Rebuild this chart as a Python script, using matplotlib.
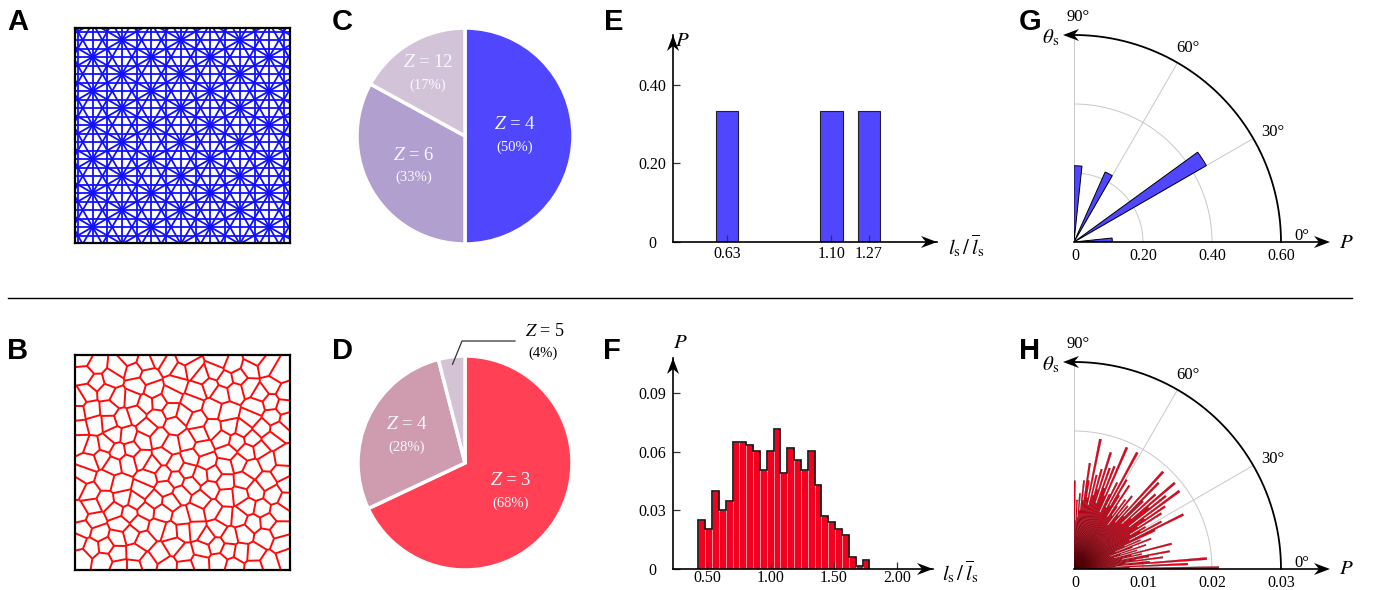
import numpy as np
import matplotlib
matplotlib.use('Agg')
import matplotlib.pyplot as plt
import matplotlib.tri as mtri
from matplotlib.collections import LineCollection
from matplotlib.patches import Polygon

plt.rcParams['font.family'] = ['Liberation Serif', 'DejaVu Serif']
plt.rcParams['mathtext.fontset'] = 'stix'

W, H = 1379, 590

# ---- data ----
pie_c_z = ['4', '6', '12']
pie_c_pct = [50, 33, 17]
pie_c_colors = ['#5046fe', '#b09fcf', '#d3c3d8']
pie_c_label_r = [0.46, 0.55, 0.67]

pie_d_z = ['3', '4', '5']
pie_d_pct = [68, 28, 4]
pie_d_colors = ['#ff4055', '#cf9bae', '#d4c2d5']
pie_d_label_r = [0.50, 0.60]

e_lengths = [0.63, 1.10, 1.27]
e_prob = [0.333, 0.333, 0.333]
e_ticks = [0.63, 1.10, 1.27]

f_prob = [0.0252, 0.0205, 0.0397, 0.0300, 0.0349, 0.0651, 0.0651, 0.0636, 0.0602,
          0.0508, 0.0602, 0.0716, 0.0491, 0.0619, 0.0556, 0.0508, 0.0602, 0.0430,
          0.0269, 0.0239, 0.0205, 0.0172, 0.0061, 0.0014, 0.0048]
f_first_edge = 0.431
f_bin = 0.0539
f_ticks = [0.50, 1.00, 1.50, 2.00]

g_bin_left = [0, 30, 60, 84]       # degrees, 6 degree bins
g_prob = [0.111, 0.443, 0.222, 0.221]

# 1 degree bins, 0..89
h_prob = [0.0210, 0.0080, 0.0165, 0.0060, 0.0193, 0.0110, 0.0075, 0.0130, 0.0090, 0.0110,
          0.0141, 0.0070, 0.0100, 0.0085, 0.0146, 0.0060, 0.0095, 0.0070, 0.0110, 0.0055,
          0.0090, 0.0120, 0.0065, 0.0105, 0.0080, 0.0130, 0.0177, 0.0090, 0.0144, 0.0110,
          0.0120, 0.0095, 0.0150, 0.0110, 0.0160, 0.0125, 0.0190, 0.0100, 0.0170, 0.0140,
          0.0192, 0.0110, 0.0160, 0.0095, 0.0140, 0.0175, 0.0105, 0.0191, 0.0090, 0.0120,
          0.0100, 0.0135, 0.0080, 0.0125, 0.0095, 0.0110, 0.0145, 0.0090, 0.0125, 0.0150,
          0.0105, 0.0192, 0.0100, 0.0140, 0.0120, 0.0090, 0.0192, 0.0115, 0.0160, 0.0125,
          0.0155, 0.0100, 0.0177, 0.0120, 0.0150, 0.0110, 0.0140, 0.0095, 0.0192, 0.0105,
          0.0130, 0.0155, 0.0100, 0.0129, 0.0085, 0.0110, 0.0075, 0.0100, 0.0070, 0.0128]

BLUE = '#5046fe'
RED = '#f2001f'

fig = plt.figure(figsize=(W / 100, H / 100), dpi=100)


def px_axes(x0, y0, x1, y1, **kw):
    return fig.add_axes([x0 / W, 1 - y1 / H, (x1 - x0) / W, (y1 - y0) / H], **kw)


def px_text(x, y, s, **kw):
    kw.setdefault('ha', 'center')
    kw.setdefault('va', 'center')
    fig.text(x / W, 1 - y / H, s, **kw)


def head(xt, yt, dx, dy, length=16, half=6, notch=5):
    # concave arrow head, tip at (xt, yt) in picture pixels, pointing along (dx, dy)
    u = np.array([dx, dy], float)
    n = np.array([-dy, dx], float)
    tip = np.array([xt, yt], float)
    base = tip - length * u
    pts = np.array([tip, base + half * n, tip - (length - notch) * u, base - half * n])
    pts = np.column_stack([pts[:, 0] / W, 1 - pts[:, 1] / H])
    fig.add_artist(Polygon(pts, closed=True, transform=fig.transFigure, color='k', lw=0, zorder=10))


# panel letters + separator
for lab, (x, y) in zip('ABCDEFGH', [(18, 22), (18, 351), (342, 22), (342, 351),
                                    (614, 22), (612, 351), (1030, 22), (1030, 351)]):
    px_text(x, y, lab, family='Liberation Sans', weight='bold', fontsize=21)
fig.add_artist(plt.Line2D([8 / W, 1352 / W], [1 - 298 / H] * 2, color='k', lw=1.0))

# ---- A: lattice of 12-, 6- and 4-fold nodes ----
axA = px_axes(75, 28, 290, 243)
axA.set_xlim(75, 290)
axA.set_ylim(243, 28)
L = 34.0
c = L * np.sqrt(3) / 2
p0 = np.array([122.0, 74.0])
corners = np.array([[75, 28], [290, 28], [75, 243], [290, 243]], float)
segs = []
for ang, sp in [(90, c / 2), (30, c), (-30, c), (0, L / 4), (60, L / 2), (-60, L / 2)]:
    a = np.deg2rad(ang)
    u = np.array([np.cos(a), np.sin(a)])
    n = np.array([-np.sin(a), np.cos(a)])
    s0 = n @ p0
    sv = corners @ n
    tv = corners @ u
    for k in range(int(np.floor((sv.min() - s0) / sp)) - 1, int(np.ceil((sv.max() - s0) / sp)) + 2):
        s = s0 + k * sp
        segs.append([s * n + (tv.min() - 20) * u, s * n + (tv.max() + 20) * u])
axA.add_collection(LineCollection(segs, colors='#1010ff', linewidths=1.3))
axA.set_xticks([])
axA.set_yticks([])
for sp_ in axA.spines.values():
    sp_.set_linewidth(1.6)
    sp_.set_zorder(5)


# ---- B: Voronoi-like network ----
def halton(i, b):
    f, r = 1.0, 0.0
    while i > 0:
        f /= b
        r += f * (i % b)
        i //= b
    return r


N = 200
pts = np.array([[halton(i + 7, 2), halton(i + 7, 3)] for i in range(N)])
d0 = 0.95 / np.sqrt(N)
for _ in range(8):
    diff = pts[:, None, :] - pts[None, :, :]
    dist = np.sqrt((diff ** 2).sum(-1)) + np.eye(N)
    w = np.clip(d0 - dist, 0, None) / dist
    np.fill_diagonal(w, 0)
    pts = np.clip(pts + 0.3 * (diff * w[..., None]).sum(1), 0.012, 0.988)
allp = np.vstack([pts, pts * [-1, 1], pts * [-1, 1] + [2, 0], pts * [1, -1], pts * [1, -1] + [0, 2]])
tri = mtri.Triangulation(allp[:, 0], allp[:, 1])
P = allp[tri.triangles]
ax_, ay_ = P[:, 0, 0], P[:, 0, 1]
bx_, by_ = P[:, 1, 0], P[:, 1, 1]
cx_, cy_ = P[:, 2, 0], P[:, 2, 1]
dd = 2 * (ax_ * (by_ - cy_) + bx_ * (cy_ - ay_) + cx_ * (ay_ - by_))
ux = ((ax_**2 + ay_**2) * (by_ - cy_) + (bx_**2 + by_**2) * (cy_ - ay_) + (cx_**2 + cy_**2) * (ay_ - by_)) / dd
uy = ((ax_**2 + ay_**2) * (cx_ - bx_) + (bx_**2 + by_**2) * (ax_ - cx_) + (cx_**2 + cy_**2) * (bx_ - ax_)) / dd
vsegs = []
for t, nb in enumerate(tri.neighbors):
    for m in nb:
        if m > t:
            p, q = (ux[t], uy[t]), (ux[m], uy[m])
            if -0.3 < min(p[0], q[0]) and max(p[0], q[0]) < 1.3 and -0.3 < min(p[1], q[1]) and max(p[1], q[1]) < 1.3:
                vsegs.append([p, q])
axB = px_axes(75, 355, 290, 570)
axB.add_collection(LineCollection(vsegs, colors='#ff0a0a', linewidths=1.4))
axB.set_xlim(0, 1)
axB.set_ylim(0, 1)
axB.set_xticks([])
axB.set_yticks([])
for sp_ in axB.spines.values():
    sp_.set_linewidth(1.6)
    sp_.set_zorder(5)


# ---- C / D: pies ----
def draw_pie(ax, pct, colors, zs, label_r):
    wedges, _ = ax.pie(pct, colors=colors, startangle=90, counterclock=False,
                       wedgeprops=dict(edgecolor='white', linewidth=2.5))
    ax.set_xlim(-1, 1)
    ax.set_ylim(-1, 1)
    ax.set_aspect('equal')
    for wdg, z, p, r in zip(wedges, zs, pct, label_r):
        mid = np.deg2rad((wdg.theta1 + wdg.theta2) / 2)
        xy = (r * np.cos(mid), r * np.sin(mid))
        ax.annotate('$Z$ = ' + z, xy, xytext=(0, 8), textcoords='offset points',
                    ha='center', va='center', fontsize=13.5, color='#f8f8ff')
        ax.annotate('(%d%%)' % p, xy, xytext=(0, -8), textcoords='offset points',
                    ha='center', va='center', fontsize=10.5, color='#f8f8ff')
    return wedges


axC = px_axes(357, 28, 573, 244)
draw_pie(axC, pie_c_pct, pie_c_colors, pie_c_z, pie_c_label_r)

axD = px_axes(358, 356, 572, 570)
wD = draw_pie(axD, pie_d_pct, pie_d_colors, pie_d_z, pie_d_label_r)
mid5 = np.deg2rad((wD[2].theta1 + wD[2].theta2) / 2)
axD.plot([0.93 * np.cos(mid5), -0.028, 0.467], [0.93 * np.sin(mid5), 1.14, 1.14],
         color='#333333', lw=0.9, clip_on=False)
px_text(545, 332, '$Z$ = ' + pie_d_z[2], fontsize=13)
px_text(543, 353, '(%d%%)' % pie_d_pct[2], fontsize=10.5)


# ---- E / F: histograms ----
def style_hist(ax, xpad, box):
    x0, y0, x1, y1 = box
    for k in ('top', 'right'):
        ax.spines[k].set_visible(False)
    for k in ('left', 'bottom'):
        ax.spines[k].set_linewidth(1.2)
    head(x1, y1, 1, 0)
    head(x0, y0, 0, -1)
    ax.tick_params(direction='in', length=5, width=0.9, labelsize=11.5, color='#333333')
    ax.tick_params(axis='y', pad=15)
    ax.tick_params(axis='x', pad=xpad)
    for t in ax.get_yticklabels():
        t.set_horizontalalignment('center')


axE = px_axes(673, 35, 937, 242)
axE.bar(e_lengths, e_prob, width=0.103, color=BLUE, edgecolor='#222222', linewidth=0.8)
axE.set_xlim(0.387, 1.576)
axE.set_ylim(0, 0.527)
axE.set_xticks(e_ticks, ['%.2f' % v for v in e_ticks])
axE.set_yticks([0, 0.2, 0.4], ['0', '0.20', '0.40'])
style_hist(axE, 3, (673, 35, 937, 242))
px_text(682, 42, '$P$', fontsize=15)
px_text(966, 246, r'$l_\mathrm{s}\,/\,\overline{l}_\mathrm{s}$', fontsize=15)

axF = px_axes(673, 358, 933, 569)
f_edges = f_first_edge + f_bin * np.arange(len(f_prob) + 1)
axF.bar(f_edges[:-1], f_prob, width=f_bin, align='edge', color=RED, edgecolor='#ffb0b8', linewidth=0.5)
axF.stairs(f_prob, f_edges, baseline=0, color='#111111', lw=1.2)
axF.set_xlim(0.231, 2.280)
axF.set_ylim(0, 0.1078)
axF.set_xticks(f_ticks, ['%.2f' % v for v in f_ticks])
axF.set_yticks([0, 0.03, 0.06, 0.09], ['0', '0.03', '0.06', '0.09'])
style_hist(axF, 0.5, (673, 358, 933, 569))
px_text(680, 344, '$P$', fontsize=15)
px_text(960, 572, r'$l_\mathrm{s}\,/\,\overline{l}_\mathrm{s}$', fontsize=15)


# ---- G / H: polar quarter histograms ----
def polar_panel(y_top, rmax, rgrid, rlabels):
    ax = px_axes(1074, y_top, 1281, y_top + 207, projection='polar')
    ax.set_thetamin(0)
    ax.set_thetamax(90)
    ax.set_ylim(0, rmax)
    ax.axis('off')
    th = np.linspace(0, np.pi / 2, 200)
    for r in rgrid:
        ax.plot(th, np.full_like(th, r), color='#c8c8c8', lw=0.7, zorder=0)
    for a in (30, 60, 90):
        ax.plot([np.deg2rad(a)] * 2, [0, rmax], color='#c8c8c8', lw=0.7, zorder=0)
    ax.plot(th, np.full_like(th, rmax), color='k', lw=1.3, clip_on=False, zorder=5)
    ax.plot([0, 0], [0, rmax * 245 / 207], color='k', lw=1.2, clip_on=False, zorder=5)
    yc = y_top + 207
    head(1330, yc, 1, 0)
    head(1063, y_top, -1, 0)
    for lab, x in zip(rlabels, [1075, 1143, 1212, 1281]):
        px_text(x, yc + 14, lab, fontsize=11.5)
    px_text(1078, y_top - 18, '90°', fontsize=12)
    px_text(1188, y_top + 13, '60°', fontsize=12)
    px_text(1273, y_top + 97, '30°', fontsize=12)
    px_text(1302, yc - 6, '0°', fontsize=12)
    px_text(1346, yc + 1, '$P$', fontsize=15)
    px_text(1051, y_top + 3, r'$\theta_\mathrm{s}$', fontsize=15)
    return ax


axG = polar_panel(35, 0.6, [0.2, 0.4], ['0', '0.20', '0.40', '0.60'])
axG.bar(np.deg2rad(g_bin_left), g_prob, width=np.deg2rad(6), align='edge',
        color=BLUE, edgecolor='k', linewidth=0.7, zorder=3)

axH = polar_panel(362, 0.03, [0.01, 0.02], ['0', '0.01', '0.02', '0.03'])
axH.bar(np.deg2rad(np.arange(len(h_prob))), h_prob, width=np.deg2rad(1), align='edge',
        color='#f5001c', edgecolor='#2a0000', linewidth=0.18, zorder=3)

fig.savefig('out.png', dpi=100)
